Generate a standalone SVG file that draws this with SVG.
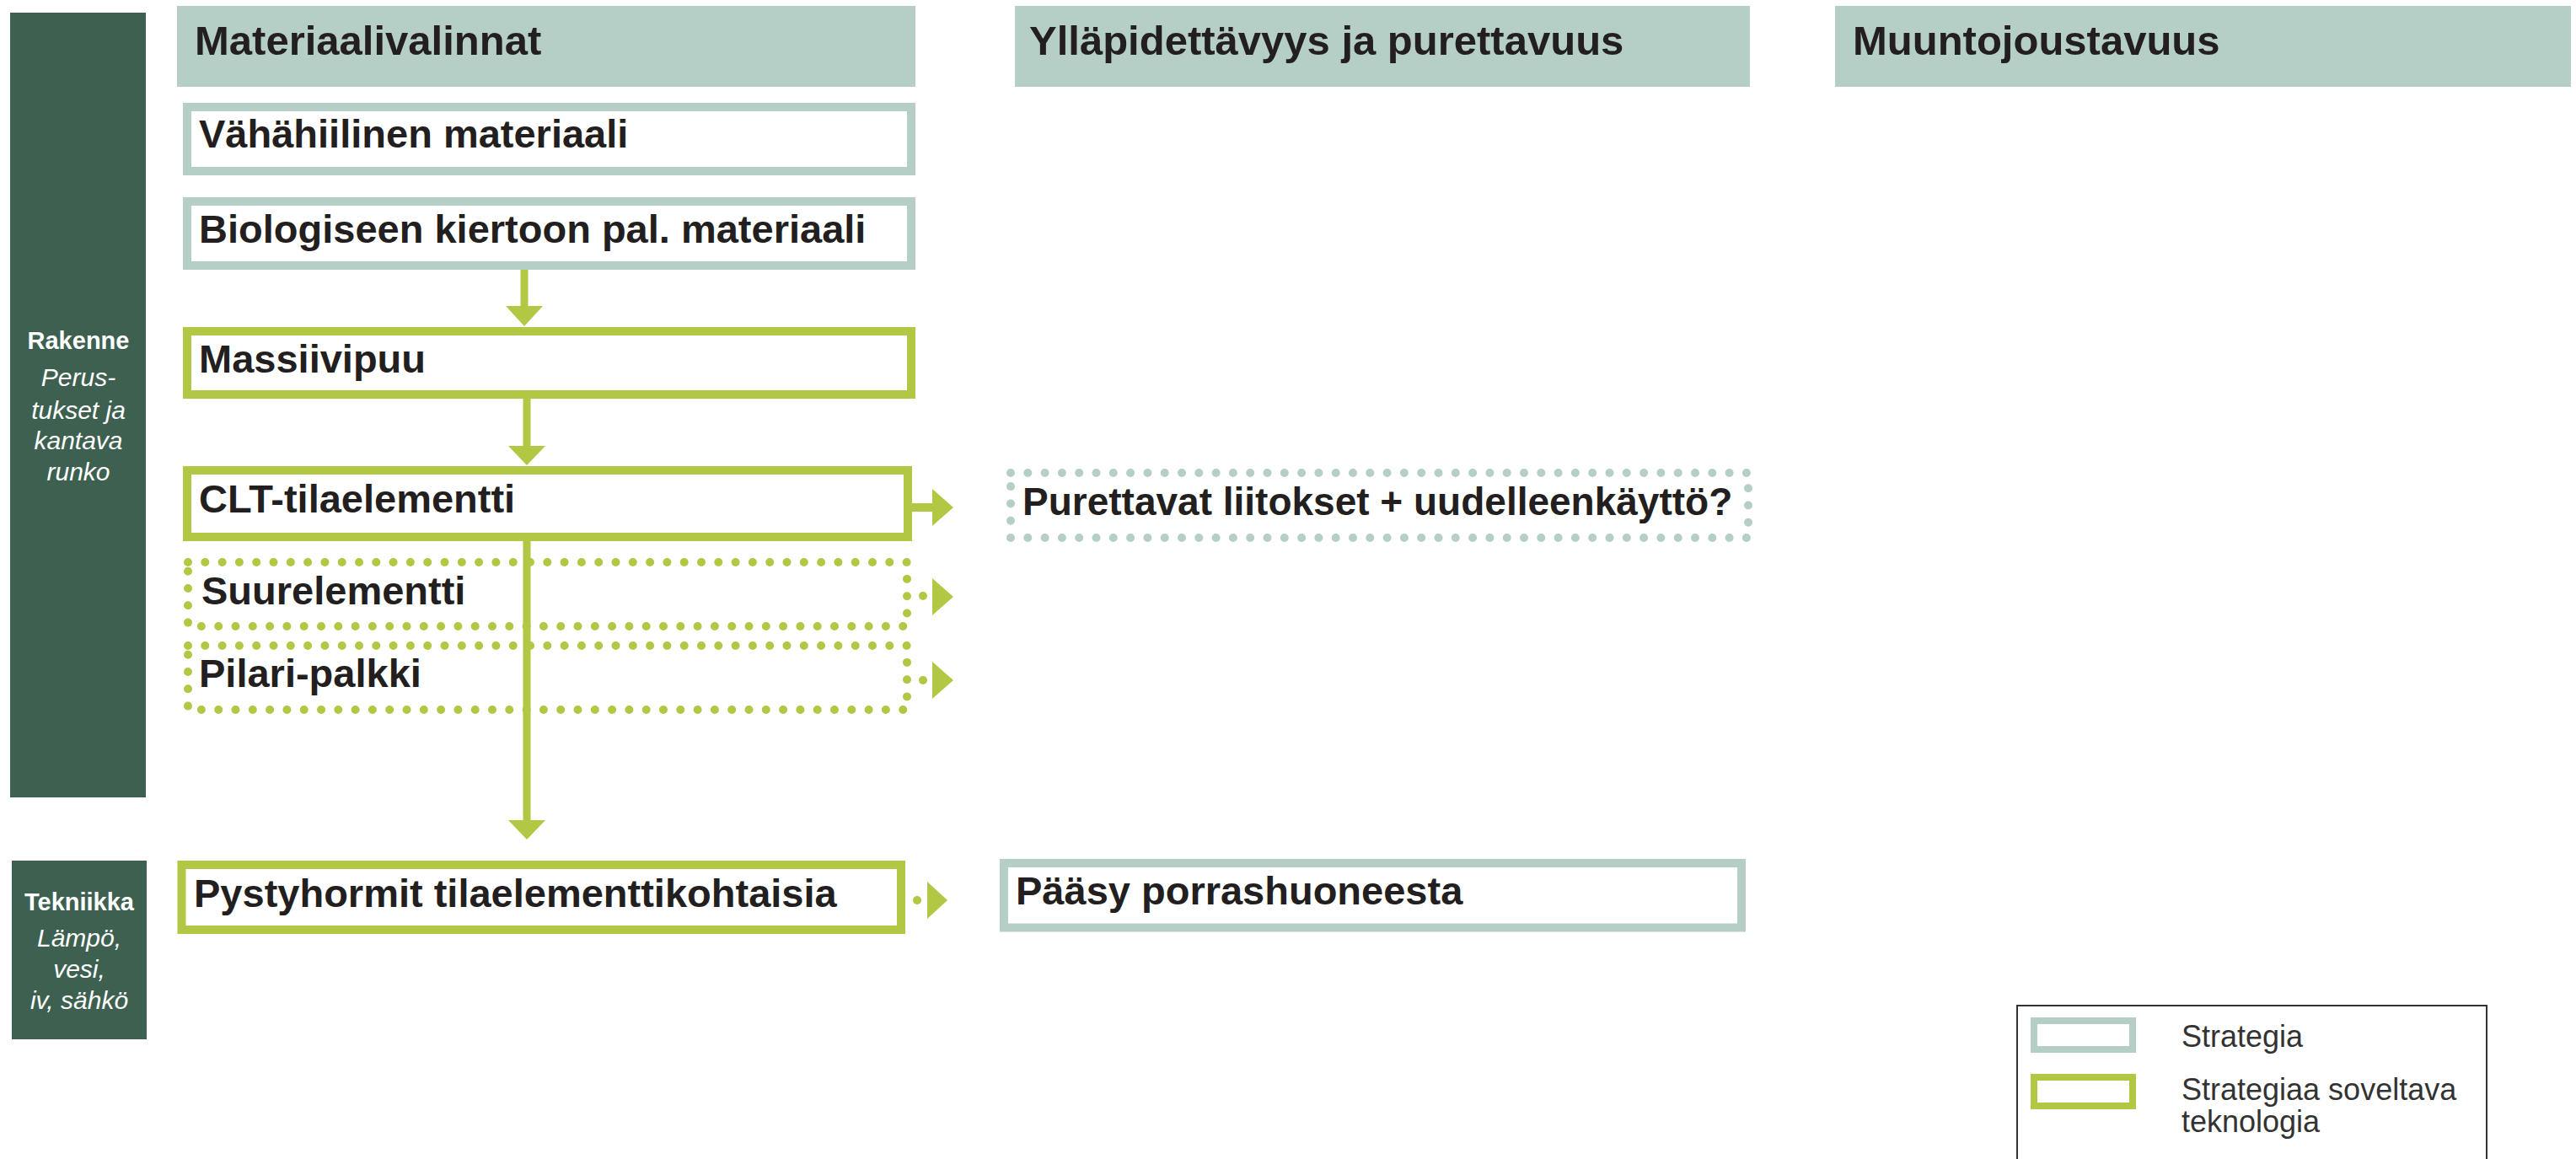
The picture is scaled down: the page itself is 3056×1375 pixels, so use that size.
<svg xmlns="http://www.w3.org/2000/svg" width="3056" height="1375" viewBox="0 0 3056 1375">
<defs>
<style>
.hdr{fill:#b5cfc7}
.hdrt{font-family:"Liberation Sans",Arial,sans-serif;font-weight:700;font-size:49px;fill:#231f20}
.bt{font-family:"Liberation Sans",Arial,sans-serif;font-weight:700;font-size:47px;fill:#231f20}
.strat{fill:#fff;stroke:#b5cfc7;stroke-width:10}
.tech{fill:#fff;stroke:#b2c844;stroke-width:10}
.dotg{fill:none;stroke:#b2c844;stroke-width:10;stroke-linecap:round;stroke-dasharray:0 20.3}
.dott{fill:none;stroke:#b5cfc7;stroke-width:10;stroke-linecap:round;stroke-dasharray:0 20.3}
.side{fill:#3d6050}
.sb{font-family:"Liberation Sans",Arial,sans-serif;font-weight:700;font-size:29px;fill:#fff;text-anchor:middle}
.si{font-family:"Liberation Sans",Arial,sans-serif;font-style:italic;font-size:30px;fill:#fff;text-anchor:middle}
.conn{stroke:#b2c844;stroke-width:9;fill:none}
.head{fill:#b2c844}
.lt{font-family:"Liberation Sans",Arial,sans-serif;font-size:36px;fill:#333}
</style>
</defs>
<rect width="3056" height="1375" fill="#fff"/>

<g id="row-rakenne">
<rect class="side" x="12" y="15" width="161" height="931"/>
<text class="sb" x="93" y="414">Rakenne</text>
<text class="si" x="93" y="458">Perus-</text>
<text class="si" x="93" y="497">tukset ja</text>
<text class="si" x="93" y="533">kantava</text>
<text class="si" x="93" y="570">runko</text>
</g>
<g id="row-tekniikka">
<rect class="side" x="14" y="1021" width="160" height="212"/>
<text class="sb" x="94" y="1080">Tekniikka</text>
<text class="si" x="94" y="1123">Lämpö,</text>
<text class="si" x="94" y="1160">vesi,</text>
<text class="si" x="94" y="1197">iv, sähkö</text>
</g>

<g id="header-materiaalivalinnat">
<rect class="hdr" x="210" y="7" width="876" height="96"/>
<text class="hdrt" x="231" y="65">Materiaalivalinnat</text>
</g>
<g id="header-yllapidettavyys">
<rect class="hdr" x="1204" y="7" width="872" height="96"/>
<text class="hdrt" x="1221" y="65">Ylläpidettävyys ja purettavuus</text>
</g>
<g id="header-muuntojoustavuus">
<rect class="hdr" x="2177" y="7" width="873" height="96"/>
<text class="hdrt" x="2198" y="65">Muuntojoustavuus</text>
</g>

<g id="node-vahahiilinen">
<rect class="strat" x="222" y="127" width="859" height="76"/>
<text class="bt" x="236" y="175">Vähähiilinen materiaali</text>
</g>
<g id="node-biologiseen">
<rect class="strat" x="222" y="239" width="859" height="76"/>
<text class="bt" x="236" y="288">Biologiseen kiertoon pal. materiaali</text>
</g>
<g id="node-massiivipuu">
<rect class="tech" x="222" y="393" width="859" height="75"/>
<text class="bt" x="236" y="442">Massiivipuu</text>
</g>
<g id="node-clt">
<rect class="tech" x="222" y="558" width="855" height="79"/>
<text class="bt" x="236" y="608">CLT-tilaelementti</text>
</g>
<g id="node-suurelementti">
<rect class="dotg" x="223" y="667" width="853" height="76"/>
<text class="bt" x="239" y="717">Suurelementti</text>
</g>
<g id="node-pilari">
<rect class="dotg" x="223" y="766" width="853" height="76"/>
<text class="bt" x="236" y="815">Pilari-palkki</text>
</g>
<g id="node-pystyhormit">
<rect class="tech" x="215.5" y="1026" width="853.5" height="77"/>
<text class="bt" x="230" y="1076">Pystyhormit tilaelementtikohtaisia</text>
</g>
<g id="node-purettavat">
<rect class="dott" x="1199" y="561" width="875" height="77"/>
<text class="bt" x="1213" y="611" style="font-size:46px">Purettavat liitokset + uudelleenkäyttö?</text>
</g>
<g id="node-paasy">
<rect class="strat" x="1191" y="1024" width="875" height="76.5"/>
<text class="bt" x="1205" y="1073">Pääsy porrashuoneesta</text>
</g>

<g id="connectors">
<line class="conn" x1="622" y1="320" x2="622" y2="365"/>
<polygon class="head" points="600,363 644,363 622,387"/>
<line class="conn" x1="625" y1="473" x2="625" y2="531"/>
<polygon class="head" points="603,529 647,529 625,552"/>
<line class="conn" x1="625" y1="642" x2="625" y2="975"/>
<polygon class="head" points="603,973 647,973 625,996"/>
<line class="conn" x1="1082" y1="602" x2="1108" y2="602" style="stroke-width:10"/>
<polygon class="head" points="1106,580 1131,602 1106,624"/>
<circle class="head" cx="1095" cy="707" r="5"/>
<polygon class="head" points="1106,686 1131,708 1106,730"/>
<circle class="head" cx="1095" cy="807" r="5"/>
<polygon class="head" points="1106,785 1131,807 1106,829"/>
<circle class="head" cx="1088" cy="1068" r="5"/>
<polygon class="head" points="1100,1046 1124,1068 1100,1090"/>
</g>

<g id="legend">
<rect x="2393" y="1193" width="557" height="200" fill="none" stroke="#333" stroke-width="2"/>
<rect x="2413" y="1211" width="117" height="34" fill="#fff" stroke="#b5cfc7" stroke-width="8"/>
<text class="lt" x="2588" y="1242">Strategia</text>
<rect x="2413" y="1278" width="117" height="34" fill="#fff" stroke="#b2c844" stroke-width="8"/>
<text class="lt" x="2588" y="1305">Strategiaa soveltava</text>
<text class="lt" x="2588" y="1343">teknologia</text>
</g>
</svg>
